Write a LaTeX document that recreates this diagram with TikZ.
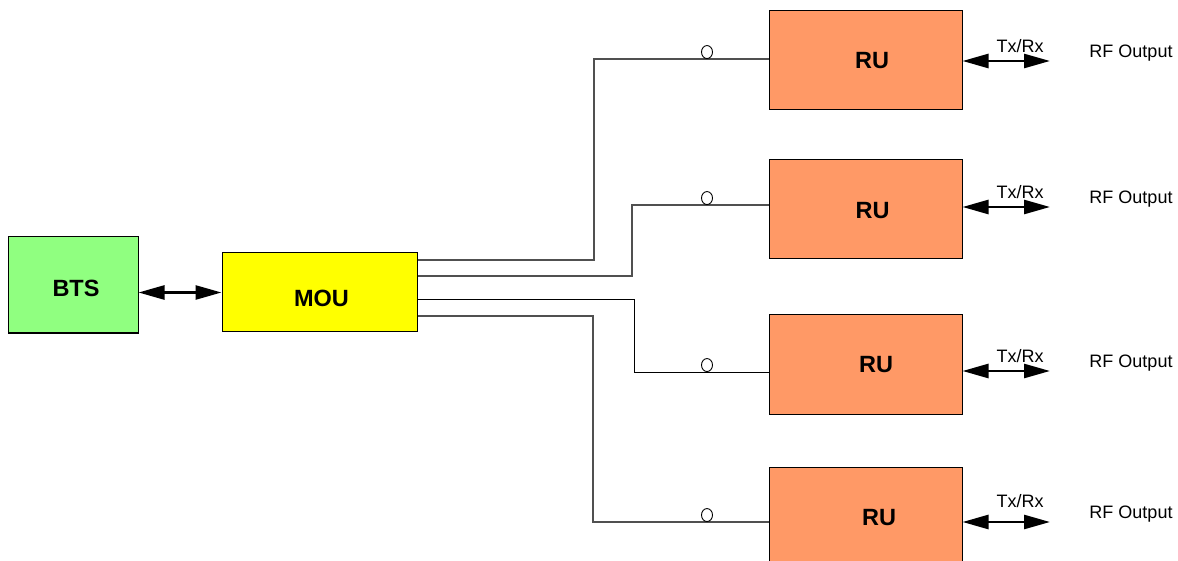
\documentclass[tikz,border=0pt]{standalone}
\usepackage{fontspec}
\setmainfont{Liberation Sans}
\usetikzlibrary{arrows.meta,shapes.geometric}
\definecolor{btsgreen}{RGB}{144,255,128}
\definecolor{ruorange}{RGB}{255,153,102}
\definecolor{mouyellow}{RGB}{255,255,0}
\definecolor{fibergray}{RGB}{80,80,80}
\tikzset{
  unit/.style={draw=black, line width=1pt, inner sep=0pt},
  unittext/.style={font=\fontsize{23.5}{27}\selectfont\bfseries, inner sep=0pt},
  rubox/.style={unit, fill=ruorange, minimum width=193pt, minimum height=99pt},
  fiber/.style={draw=fibergray, line width=1.2pt},
  plug/.style={ellipse, draw=black, line width=0.9pt, minimum width=11pt, minimum height=13pt, inner sep=0pt, anchor=south},
  biarrow/.style={line width=2.6pt, {Triangle[length=26pt,width=14pt]}-{Triangle[length=26pt,width=14pt]}},
  small/.style={font=\fontsize{18}{21}\selectfont}
}
\begin{document}
\begin{tikzpicture}[x=1pt, y=-1pt]
	\useasboundingbox (0,0) rectangle (1178,561);
	\clip (0,0) rectangle (1178,561);
	% units
	\node[unit, fill=btsgreen, minimum width=130pt, minimum height=96pt,
		label={[unittext, xshift=3pt, yshift=-3.5pt]center:BTS}] (bts) at (73,285) {};
	\node[unit, fill=mouyellow, minimum width=195pt, minimum height=79pt,
		label={[unittext, xshift=2pt, yshift=-6pt]center:MOU}] (mou) at (319.5,292.5) {};
	\node[rubox, label={[unittext, xshift=6.5pt]center:RU}] (ru1) at (865.5,60.5) {};
	\node[rubox, label={[unittext, xshift=7pt, yshift=-1.5pt]center:RU}] (ru2) at (865.5,209.5) {};
	\node[rubox, label={[unittext, xshift=10.5pt, yshift=-0.5pt]center:RU}] (ru3) at (865.5,364.5) {};
	\node[rubox, label={[unittext, xshift=13.5pt, yshift=-1.5pt]center:RU}] (ru4) at (865.5,516.5) {};
	\draw[biarrow] (bts.east |- mou.west) -- (mou.west);
	% fibres
	\draw[fiber] (mou.east |- 0,260) -- (594,260) |- (ru1.west |- 0,59);
	\draw[fiber] (mou.east |- 0,276) -- (632,276) |- (ru2.west |- 0,205);
	\draw[fiber, draw=black, line width=1pt] (mou.east |- 0,300) -- (634,300) |- (ru3.west |- 0,372);
	\draw[fiber] (mou.east |- 0,316) -- (593,316) |- (ru4.west |- 0,522);
	\node[plug] (p1) at (707,59) {};
	\node[plug] (p2) at (707,205) {};
	\node[plug] (p3) at (707,372) {};
	\node[plug] (p4) at (707,522) {};
	% outputs
	\coordinate (o1) at (1050,61);
	\coordinate (o2) at (1050,207);
	\coordinate (o3) at (1050,371);
	\coordinate (o4) at (1050,522);
	\draw[biarrow] (ru1.east |- o1) -- (o1);
	\draw[biarrow] (ru2.east |- o2) -- (o2);
	\draw[biarrow] (ru3.east |- o3) -- (o3);
	\draw[biarrow] (ru4.east |- o4) -- (o4);
	\node[small] (t1) at (1020,46) {Tx/Rx};
	\node[small] (t2) at (1020,192) {Tx/Rx};
	\node[small] (t3) at (1020,356) {Tx/Rx};
	\node[small] (t4) at (1020,501) {Tx/Rx};
	\node[small] (rf1) at (1131,53) {RF Output};
	\node[small] (rf2) at (1131,199) {RF Output};
	\node[small] (rf3) at (1131,363) {RF Output};
	\node[small] (rf4) at (1131,514) {RF Output};
\end{tikzpicture}
\end{document}
